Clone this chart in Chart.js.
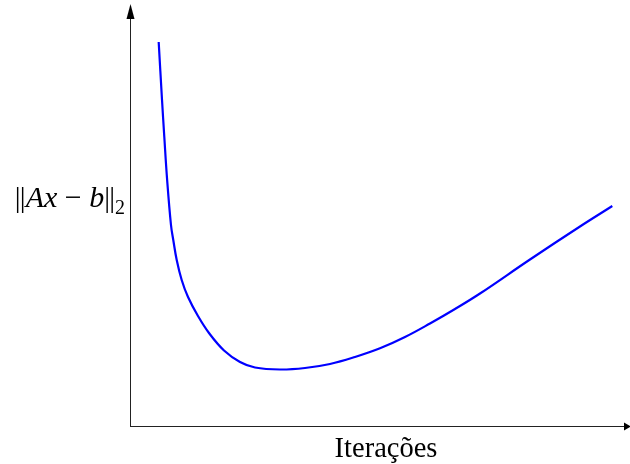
<!DOCTYPE html>
<html>
<head>
    <meta charset="utf-8">
    <title>Residuo por iteração</title>
    <script src="https://cdn.jsdelivr.net/npm/chart.js"></script>
    <style>
        body {
            margin: 0;
            padding: 0;
            background: #fff;
        }
        #wrap {
            width: 630px;
            height: 464px;
        }
    </style>
</head>
<body>
    <div id="wrap"><canvas id="residuoChart" width="630" height="464"></canvas></div>

    <script>
        // valores (unidades arbitrárias)
        const iteracoes = [5.76, 6.43, 6.89, 7.43, 8.23, 8.69, 9.38, 10.38, 11.65, 13.65, 15.86, 18.88, 22.09, 25.1, 30.12, 35.14, 40.16, 45.18, 50.2, 55.22, 60.24, 65.26, 70.28, 80.32, 90.36, 96.85];
        const residuo = [92.75, 78.74, 69.81, 59.9, 48.55, 44.93, 40.1, 35.27, 31.16, 26.57, 22.46, 18.24, 15.46, 14.13, 13.65, 14.01, 14.98, 16.67, 18.77, 21.5, 24.76, 28.26, 32.0, 40.22, 48.19, 53.14];
        const rotuloX = 'Iterações';

        const pontos = iteracoes.map((x, i) => ({ x: x, y: residuo[i] }));

        // eixos com setas + rotulos estilo LaTeX
        const eixosPlugin = {
            id: 'eixos',
            afterDraw(chart) {
                const c = chart.ctx;
                const a = chart.chartArea;
                c.save();
                c.strokeStyle = '#222';
                c.lineWidth = 1;
                c.beginPath();
                c.moveTo(a.left + 0.5, a.bottom);
                c.lineTo(a.left + 0.5, 10);
                c.moveTo(a.left, a.bottom + 0.5);
                c.lineTo(624, a.bottom + 0.5);
                c.stroke();

                c.fillStyle = '#000';
                c.beginPath();
                c.moveTo(a.left + 0.5, 4);
                c.lineTo(a.left - 3.5, 19);
                c.lineTo(a.left + 4.5, 19);
                c.closePath();
                c.fill();
                c.beginPath();
                c.moveTo(631, a.bottom + 0.5);
                c.lineTo(624, a.bottom - 3.5);
                c.lineTo(624, a.bottom + 4.5);
                c.closePath();
                c.fill();

                // rotulo eixo y: ||Ax - b||_2
                const fam = '"Liberation Serif", "DejaVu Serif", serif';
                const partes = [
                    { t: '|', f: '29px ' + fam, dy: 0, w: 5 },
                    { t: '|', f: '29px ' + fam, dy: 0 },
                    { t: 'Ax', f: 'italic 30px ' + fam, dy: 0 },
                    { t: ' \u2212 ', f: '30px ' + fam, dy: 0 },
                    { t: 'b', f: 'italic 30px ' + fam, dy: 0 },
                    { t: '|', f: '29px ' + fam, dy: 0, w: 5 },
                    { t: '|', f: '29px ' + fam, dy: 0 },
                    { t: '2', f: '20px ' + fam, dy: 7 }
                ];
                const larg = p => { c.font = p.f; return p.w !== undefined ? p.w : c.measureText(p.t).width; };
                let largura = 0;
                partes.forEach(p => { largura += larg(p); });
                let x = 125 - largura;
                const base = 207;
                c.textBaseline = 'alphabetic';
                c.textAlign = 'left';
                partes.forEach(p => {
                    const w = larg(p);
                    c.fillText(p.t, x, base + p.dy);
                    x += w;
                });

                c.font = '28.5px ' + fam;
                c.textAlign = 'center';
                c.fillText(rotuloX, 386, 457);
                c.restore();
            }
        };

        const ctx = document.getElementById('residuoChart').getContext('2d');
        new Chart(ctx, {
            type: 'line',
            data: {
                datasets: [{
                    data: pontos,
                    borderColor: '#0000ff',
                    borderWidth: 2.2,
                    fill: false,
                    pointRadius: 0,
                    tension: 0.4
                }]
            },
            options: {
                animation: false,
                responsive: false,
                layout: { padding: { left: 130, right: 2, top: 12, bottom: 38 } },
                plugins: { legend: { display: false }, tooltip: { enabled: false } },
                scales: {
                    x: { type: 'linear', min: 0, max: 100, display: false },
                    y: { type: 'linear', min: 0, max: 100, display: false }
                }
            },
            plugins: [eixosPlugin]
        });
    </script>
</body>
</html>
